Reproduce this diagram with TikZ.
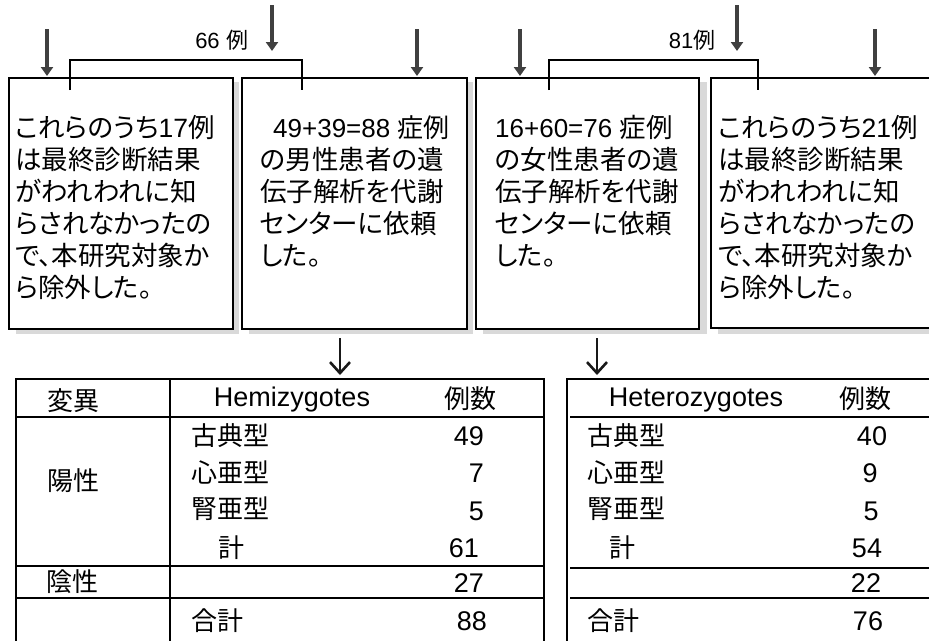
\documentclass[tikz,border=0pt]{standalone}
\usepackage{fontspec}
\setmainfont{Liberation Sans}
\newfontfamily\jp{Noto Sans CJK JP}
\newfontfamily\jpp[RawFeature=+palt]{Noto Sans CJK JP}
\usetikzlibrary{arrows.meta}
\newcommand\jt[1]{{\jp #1}}
\newcommand\jb[1]{{\jpp #1}}
\begin{document}
\begin{tikzpicture}[x=1pt,y=-1pt,
  every node/.style={inner sep=0pt},
  box/.style={draw=black, line width=1.5pt, fill=white, anchor=north west},
  shadebox/.style={fill=gray!30, draw=none},
  txt/.style={anchor=north west, align=left, font=\fontsize{26.5}{32}\selectfont},
  toparrow/.style={draw=black!75, line width=4pt, -{Triangle[length=9pt,width=12pt]}},
  lowarrow/.style={draw=black!90, line width=2.6pt, -{Straight Barb[length=11pt,width=20pt]}},
  bracket/.style={draw=black, line width=1.3pt},
  lbl/.style={font=\fontsize{22}{22}\selectfont},
  cell/.style={font=\fontsize{27}{27}\selectfont},
  jcell/.style={font=\jp\fontsize{26}{26}\selectfont},
  tline/.style={draw=black, line width=1.6pt},
  tabframe/.style={draw=black, line width=1.6pt, anchor=north west}
]
\useasboundingbox (0,0) rectangle (929,640);
\clip (0,0) rectangle (929,640);

% shadows
\path[shadebox] (16,82) rectangle (239,334);
\path[shadebox] (249,82) rectangle (473,334);
\path[shadebox] (483,82) rectangle (707,334);
\path[shadebox] (718,82) rectangle (970,334);

% boxes
\node[box, minimum width=224pt, minimum height=251pt] (b1) at (8,77) {};
\node[box, minimum width=225pt, minimum height=251pt] (b2) at (241,77) {};
\node[box, minimum width=223pt, minimum height=251pt] (b3) at (475,77) {};
\node[box, minimum width=250pt, minimum height=250pt] (b4) at (710,77) {};

% box texts
\node[txt] (t1) at (15,115) {\jb{これらのうち}17\jb{例}\\\jb{は最終診断結果}\\\jb{がわれわれに知}\\\jb{らされなかったの}\\\jb{で、本研究対象か}\\\jb{ら除外した。}};
\node[txt] (t2) at (260,115) {\hspace*{13pt}\fontsize{26}{32}\selectfont 49+39=88 \jb{症例}\\\jb{の男性患者の遺}\\\jb{伝子解析を代謝}\\\jb{センターに依頼}\\\jb{した。}};
\node[txt] (t3) at (495,115) {{\fontsize{26}{32}\selectfont 16+60=76} \jb{症例}\\\jb{の女性患者の遺}\\\jb{伝子解析を代謝}\\\jb{センターに依頼}\\\jb{した。}};
\node[txt] (t4) at (718,115) {\jb{これらのうち}21\jb{例}\\\jb{は最終診断結果}\\\jb{がわれわれに知}\\\jb{らされなかったの}\\\jb{で、本研究対象か}\\\jb{ら除外した。}};

% brackets and labels
\coordinate (k1a) at (70,90); \coordinate (k1b) at (70,60);
\coordinate (k1c) at (302,60); \coordinate (k1d) at (302,90);
\draw[bracket] (k1a) -- (k1b) -- (k1c) -- (k1d);
\coordinate (k2a) at (549,90); \coordinate (k2b) at (549,60);
\coordinate (k2c) at (758,60); \coordinate (k2d) at (758,90);
\draw[bracket] (k2a) -- (k2b) -- (k2c) -- (k2d);
\node[lbl] (l66) at (222,40) {66\hspace{7pt}\jt{例}};
\node[lbl] (l81) at (692,40) {81\jt{例}};

% top arrows
\coordinate (a1s) at (47,29);  \coordinate (a1e) at (47,76);
\coordinate (a2s) at (272,5);  \coordinate (a2e) at (272,51);
\coordinate (a3s) at (417,29); \coordinate (a3e) at (417,76);
\coordinate (a4s) at (520,29); \coordinate (a4e) at (520,76);
\coordinate (a5s) at (737,5);  \coordinate (a5e) at (737,51);
\coordinate (a6s) at (875,29); \coordinate (a6e) at (875,76);
\foreach \i in {1,...,6} {\draw[toparrow] (a\i s) -- (a\i e);}

% tables
\node[tabframe, minimum width=528pt, minimum height=320pt] (tabL) at (15,378) {};
\node[tabframe, minimum width=420pt, minimum height=320pt] (tabR) at (566,378) {};

% lower arrows
\coordinate (d1s) at (340,338); \coordinate (d1e) at (340,375);
\coordinate (d2s) at (597,338); \coordinate (d2e) at (597,375);
\draw[lowarrow] (d1s) -- (d1e);
\draw[lowarrow] (d2s) -- (d2e);

% left table rules
\draw[tline] (170,378) -- (170,700);
\draw[tline] (15,417) -- (543,417);
\draw[tline] (15,566) -- (543,566);
\draw[tline] (15,598) -- (543,598);
% right table rules
\draw[tline] (570,417) -- (980,417);
\draw[tline] (570,568) -- (980,568);
\draw[tline] (570,598) -- (980,598);

% left table text
\node[jcell, anchor=base] (hL1) at (73,410) {変異};
\node[cell, anchor=base] (hL2) at (292,406) {Hemizygotes};
\node[jcell, anchor=base] (hL3) at (470,408) {例数};
\node[jcell, anchor=base] (pos) at (73,490) {陽性};
\node[jcell, anchor=base] (neg) at (72,591) {陰性};
\node[jcell, anchor=base west] (cL1) at (191,445) {古典型};
\node[jcell, anchor=base west] (cL2) at (191,482) {心亜型};
\node[jcell, anchor=base west] (cL3) at (191,518) {腎亜型};
\node[jcell, anchor=base] (cL4) at (231,557) {計};
\node[jcell, anchor=base west] (cL5) at (191,630) {合計};
\node[cell, anchor=base east] (nL1) at (484,445) {49};
\node[cell, anchor=base east] (nL2) at (484,482) {7};
\node[cell, anchor=base east] (nL3) at (484,520) {5};
\node[cell, anchor=base east] (nL4) at (479,557) {61};
\node[cell, anchor=base east] (nL5) at (484,592) {27};
\node[cell, anchor=base east] (nL6) at (487,630) {88};

% right table text
\node[cell, anchor=base] (hR2) at (696,406) {Heterozygotes};
\node[jcell, anchor=base] (hR3) at (865,408) {例数};
\node[jcell, anchor=base west] (cR1) at (587,445) {古典型};
\node[jcell, anchor=base west] (cR2) at (587,482) {心亜型};
\node[jcell, anchor=base west] (cR3) at (587,518) {腎亜型};
\node[jcell, anchor=base] (cR4) at (622,557) {計};
\node[jcell, anchor=base west] (cR5) at (587,630) {合計};
\node[cell, anchor=base] (nR1) at (872,445) {40};
\node[cell, anchor=base] (nR2) at (870,482) {9};
\node[cell, anchor=base] (nR3) at (871,520) {5};
\node[cell, anchor=base] (nR4) at (867,557) {54};
\node[cell, anchor=base] (nR5) at (866,592) {22};
\node[cell, anchor=base] (nR6) at (868,630) {76};
\end{tikzpicture}
\end{document}
